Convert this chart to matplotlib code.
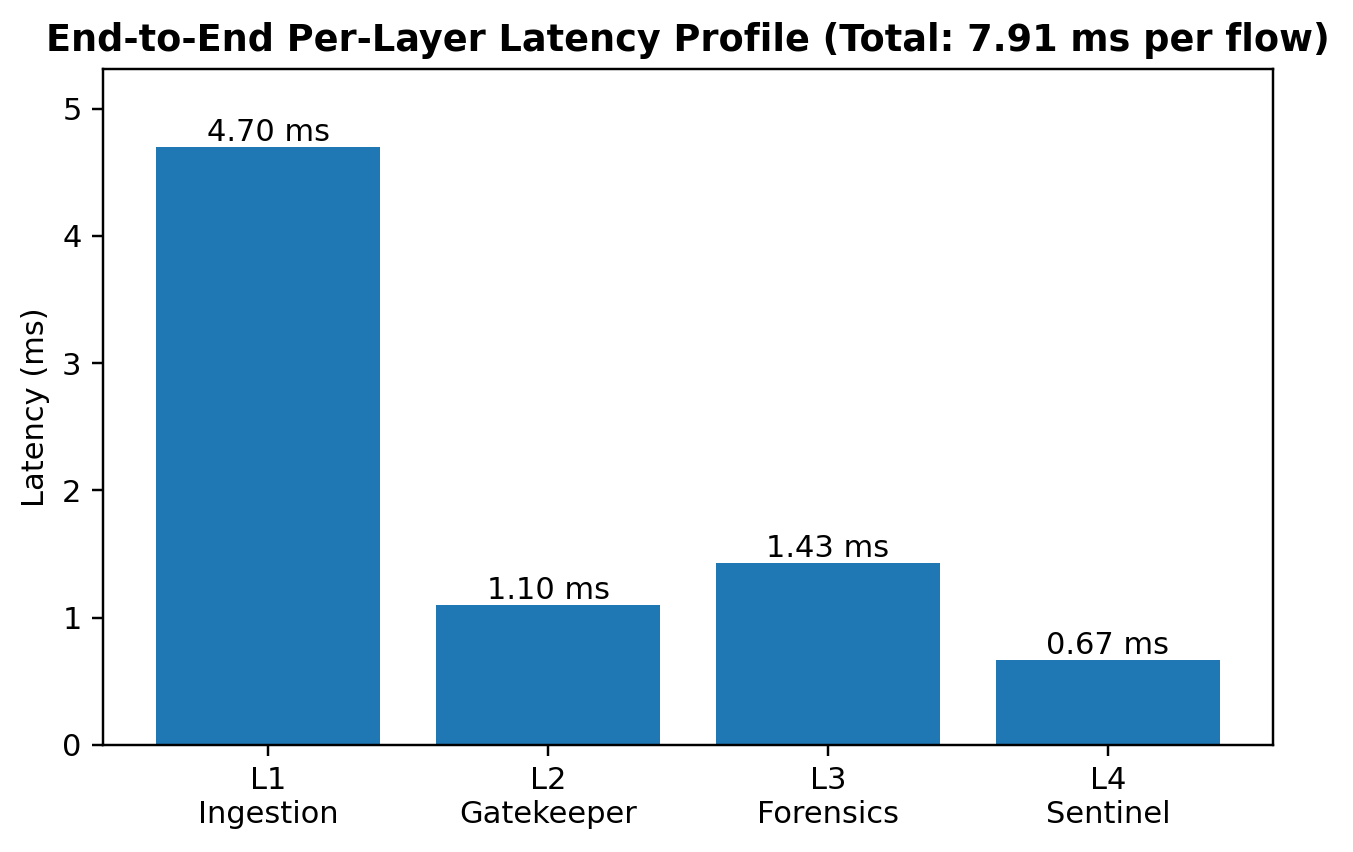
import matplotlib
matplotlib.use("Agg")
import matplotlib.pyplot as plt

layers = ["L1\nIngestion", "L2\nGatekeeper", "L3\nForensics", "L4\nSentinel"]
latency_ms = [4.70, 1.10, 1.43, 0.67]
total_ms = 7.91

DPI = 220
fig = plt.figure(figsize=(1353 / DPI, 852 / DPI), dpi=DPI)
ax = fig.add_axes([0.0761, 0.1256, 0.8648, 0.7934])

bars = ax.bar(layers, latency_ms, color="#1f77b4")
for b, v in zip(bars, latency_ms):
    ax.text(b.get_x() + b.get_width() / 2, b.get_height(), f"{v:.2f} ms",
            ha="center", va="bottom", fontsize=10)

ax.set_ylim(0, max(latency_ms) * 1.13)
ax.set_ylabel("Latency (ms)")
ax.set_title(f"End-to-End Per-Layer Latency Profile (Total: {total_ms:.2f} ms per flow)",
             fontsize=12, fontweight="bold")

fig.savefig("out.png", dpi=DPI)
